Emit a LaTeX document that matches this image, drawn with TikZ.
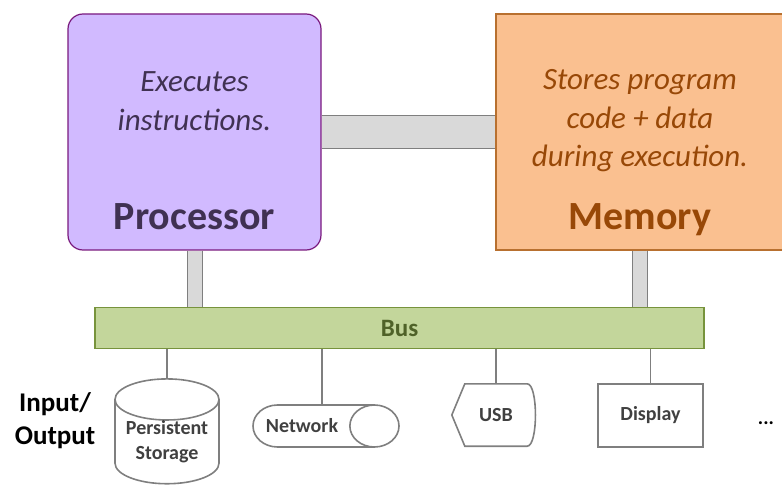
\documentclass[tikz,border=0pt]{standalone}
\usepackage{fontspec}
\setmainfont{Carlito}
\usetikzlibrary{shapes.geometric}
\definecolor{procfill}{HTML}{D1BAFF}
\definecolor{procline}{HTML}{7A1A7E}
\definecolor{proctext}{HTML}{403152}
\definecolor{memfill}{HTML}{FAC090}
\definecolor{memline}{HTML}{B8702F}
\definecolor{memtext}{HTML}{984807}
\definecolor{busfill}{HTML}{C3D69B}
\definecolor{busline}{HTML}{77933C}
\definecolor{bustext}{HTML}{4F6228}
\definecolor{barfill}{HTML}{D9D9D9}
\definecolor{wiregray}{HTML}{7F7F7F}
\definecolor{devtext}{HTML}{404040}
\begin{document}
\begin{tikzpicture}[x=1pt, y=-1pt,
	box/.style={draw, line width=1.2pt, inner sep=0pt},
	desc/.style={font=\fontsize{31}{38.5}\selectfont\itshape, align=center},
	title/.style={font=\fontsize{40}{48}\selectfont\bfseries},
	bar/.style={draw=wiregray, line width=1pt, double=barfill},
	wire/.style={draw=wiregray, line width=1.4pt},
	devline/.style={draw=wiregray, line width=1.6pt},
	devtxt/.style={text=devtext, font=\fontsize{20}{25}\selectfont\bfseries, align=center, inner sep=0pt},
	device/.style={devline, devtxt}]
				\useasboundingbox (0,0) rectangle (782,486);
				
				% 处理器
				\node[box, draw=procline, fill=procfill, rounded corners=15pt, minimum width=253pt, minimum height=236pt] (proc) at (194.5,132) {};
				\node[desc, text=proctext] (procdesc) at (194.5,101) {Executes\\instructions.};
				\node[title, text=proctext] (proctitle) at (194.5,217) {Processor};
				
				% 内存 (右边被截掉)
				\node[box, draw=memline, fill=memfill, minimum width=288pt, minimum height=236pt] (mem) at (640,132) {};
				\node[desc, text=memtext] (memdesc) at (640,121) {Stores program\\code + data\\during execution.};
				\node[title, text=memtext] (memtitle) at (640,220) {Memory};
				
				% 总线
				\node[box, draw=busline, fill=busfill, text=bustext, font=\fontsize{25}{30}\selectfont\bfseries, minimum width=609pt, minimum height=41pt] (bus) at (399.5,328) {Bus};
				
				% 灰色连接条
				\draw[bar, double distance=32pt] (proc.east) -- (mem.west);
				\draw[bar, double distance=14pt] (proc.south) -- (proc.south |- bus.north);
				\draw[bar, double distance=14pt] (mem.south) -- (mem.south |- bus.north);
				
				% 输入/输出设备
				\node[font=\fontsize{27}{33}\selectfont\bfseries, align=center] (io) at (55,421) {Input/\\Output};
				\node[device, cylinder, shape border rotate=90, aspect=0.5, minimum width=104pt, minimum height=101pt] (disk) at (167,442) {Persistent\\Storage};
				\node[devline, cylinder, aspect=1.17, inner xsep=0pt, inner ysep=21pt, minimum height=146pt, anchor=shape center] (net) at (326,426) {};
				\node[devtxt] (nettext) at (302,426) {Network};
				\node[devtxt, minimum width=62pt, minimum height=62pt] (usb) at (496,415) {USB};
				\draw[devline] (usb.north west) -- (usb.north east) .. controls +(11,0) and +(11,0) .. (usb.south east) -- (usb.south west) -- ([xshift=-13pt]usb.west) -- cycle;
				\node[device, minimum width=105pt, minimum height=63pt] (disp) at (650.5,415.5) {Display};
				\node[font=\fontsize{20}{24}\selectfont\bfseries, anchor=base] (more) at (766,424) {...};
				
				% 设备连线
				\draw[wire] (bus.south -| disk.north) -- (disk.north);
				\draw[wire] (bus.south -| nettext.north) ++(20,0) coordinate (nettop) -- (nettop |- net.north);
				\draw[wire] (bus.south -| usb.north) -- (usb.north);
				\draw[wire] (bus.south -| disp.north) -- (disp.north);
			\end{tikzpicture}
\end{document}
